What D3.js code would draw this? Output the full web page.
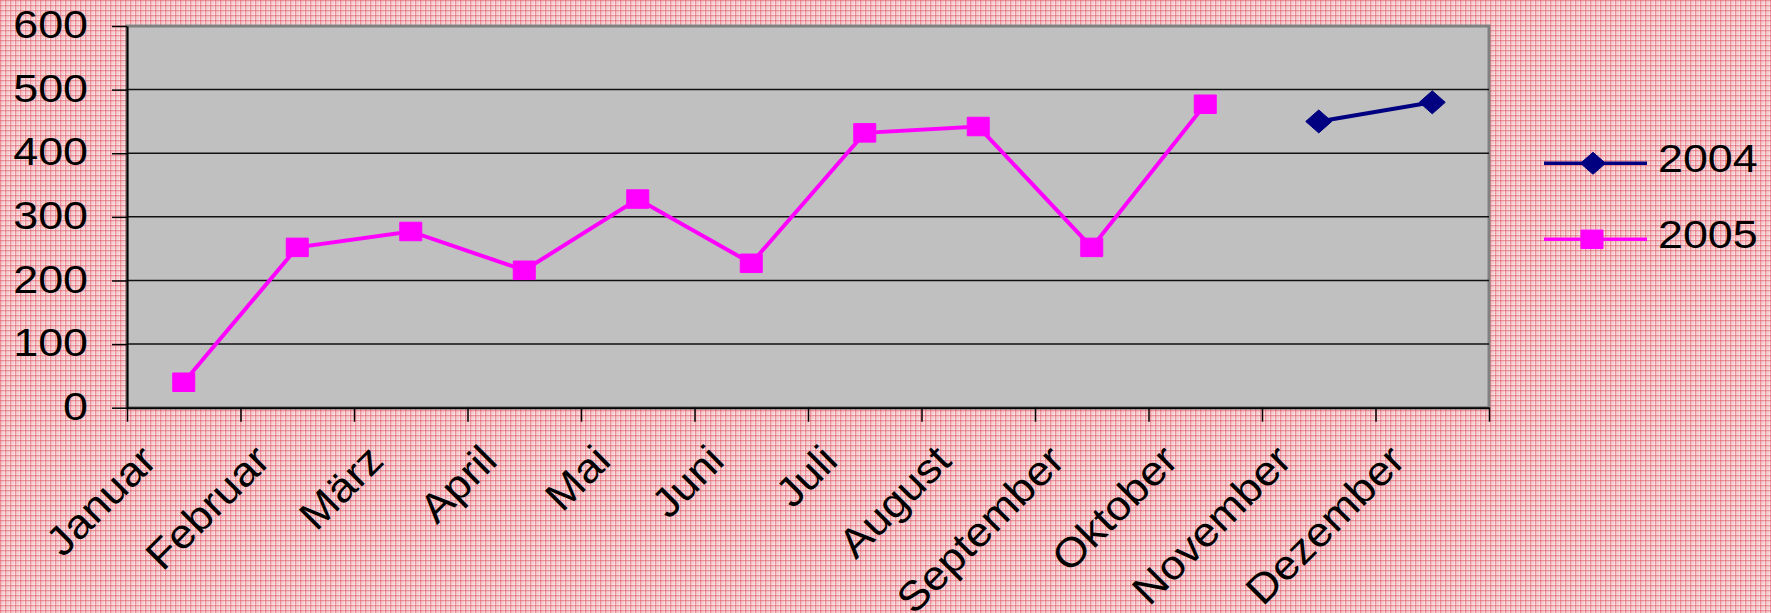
<!DOCTYPE html>
<html>
<head>
<meta charset="utf-8">
<script src="https://cdn.jsdelivr.net/npm/d3@7"></script>
<style>
  body { margin: 0; background: #fff; }
  text { font-family: "Liberation Sans", Arial, sans-serif; fill: #000; }
</style>
</head>
<body>
<div id="svg-div"></div>
<script>
// chart data
var months = ["Januar", "Februar", "März", "April", "Mai", "Juni", "Juli",
              "August", "September", "Oktober", "November", "Dezember"];
var values2004 = [null, null, null, null, null, null, null, null, null, null, 450, 480];
var values2005 = [40, 252, 277, 216, 328, 227, 432, 442, 252, 477, null, null];
var yTicks = [0, 100, 200, 300, 400, 500, 600];
var seriesNames = ["2004", "2005"];

var width = 1771;
var height = 613;
var plot = { left: 127, right: 1489, top: 26, bottom: 407.7 };
var stretch = 1.15;   // the original text is drawn wide

var svg = d3.select("#svg-div").append("svg")
    .attr("width", width).attr("height", height);

// pink checked paper behind everything
var defs = svg.append("defs");
var pat = defs.append("pattern")
    .attr("id", "paper")
    .attr("patternUnits", "userSpaceOnUse")
    .attr("width", 5).attr("height", 5);
pat.append("rect").attr("width", 5).attr("height", 5).style("fill", "#fbeeee");
pat.append("rect").attr("x", 0).attr("y", 0).attr("width", 1.4).attr("height", 5)
    .style("fill", "rgba(222,80,95,0.55)");
pat.append("rect").attr("x", 0).attr("y", 0).attr("width", 5).attr("height", 1.4)
    .style("fill", "rgba(222,80,95,0.55)");
pat.append("rect").attr("x", 2.5).attr("y", 0).attr("width", 1).attr("height", 5)
    .style("fill", "rgba(230,120,130,0.3)");
pat.append("rect").attr("x", 0).attr("y", 2.5).attr("width", 5).attr("height", 1)
    .style("fill", "rgba(230,120,130,0.3)");
svg.append("rect").attr("width", width).attr("height", height).style("fill", "url(#paper)");

var x = d3.scaleBand().domain(months).range([plot.left, plot.right]).padding(0);
var xEdge = d3.scaleLinear().domain([0, months.length]).range([plot.left, plot.right]);
var y = d3.scaleLinear().domain([0, 600]).range([plot.bottom, plot.top]);
var cx = function(i) { return x(months[i]) + x.bandwidth() / 2; };

// plot area
svg.append("rect")
    .attr("x", plot.left).attr("y", plot.top)
    .attr("width", plot.right - plot.left).attr("height", plot.bottom - plot.top)
    .style("fill", "#c0c0c0")
    .style("stroke", "#808080")
    .style("stroke-width", 3);

// gridlines
svg.append("g").selectAll("line")
    .data(yTicks.filter(function(t) { return t > 0 && t < 600; }))
    .enter().append("line")
    .attr("x1", plot.left).attr("x2", plot.right)
    .attr("y1", function(d) { return y(d); })
    .attr("y2", function(d) { return y(d); })
    .style("stroke", "#111")
    .style("stroke-width", 1.5);

// y axis
var yAxis = svg.append("g")
    .attr("transform", "translate(" + plot.left + ",0)")
    .call(d3.axisLeft(y).tickValues(yTicks).tickSize(15).tickSizeOuter(0));
yAxis.select(".domain").style("stroke", "#000").style("stroke-width", 2);
yAxis.selectAll(".tick line").style("stroke", "#000").style("stroke-width", 1.5);
yAxis.selectAll(".tick text")
    .attr("x", -39 / stretch)
    .attr("dy", "0.3em")
    .attr("transform", "scale(" + stretch + ",1)")
    .style("font-family", "'Liberation Sans', Arial, sans-serif")
    .style("font-size", "39px")
    .style("fill", "#000");

// x axis, ticks between the months
var xAxis = svg.append("g")
    .attr("transform", "translate(0," + plot.bottom + ")")
    .call(d3.axisBottom(xEdge).tickValues(d3.range(months.length + 1))
          .tickFormat("").tickSize(14).tickSizeOuter(0));
xAxis.select(".domain").style("stroke", "#000").style("stroke-width", 2);
xAxis.selectAll(".tick line").style("stroke", "#000").style("stroke-width", 1.5);

svg.append("g").selectAll("text")
    .data(months)
    .enter().append("text")
    .attr("text-anchor", "end")
    .attr("transform", function(d, i) {
      return "translate(" + (cx(i) - 25) + "," + (plot.bottom + 55) + ") rotate(-45) scale(1.08,1)";
    })
    .style("font-size", "41px")
    .text(function(d) { return d; });

// series
function linePath(vals) {
  return d3.line()
    .defined(function(d) { return d != null; })
    .x(function(d, i) { return cx(i); })
    .y(function(d) { return y(d); })(vals);
}

function squarePath(w, h) {
  return "M" + (-w / 2) + "," + (-h / 2) + "h" + w + "v" + h + "h" + (-w) + "Z";
}
function diamondPath(w, h) {
  return "M0," + (-h / 2) + "L" + (w / 2) + ",0L0," + (h / 2) + "L" + (-w / 2) + ",0Z";
}

svg.append("path")
    .attr("d", linePath(values2005))
    .style("fill", "none").style("stroke", "#ff00ff").style("stroke-width", 4);
svg.append("path")
    .attr("d", linePath(values2004))
    .style("fill", "none").style("stroke", "#000080").style("stroke-width", 4);

svg.append("g").selectAll("path")
    .data(values2005.map(function(v, i) { return { v: v, i: i }; }).filter(function(d) { return d.v != null; }))
    .enter().append("path")
    .attr("d", squarePath(22, 18.5))
    .attr("transform", function(d) { return "translate(" + cx(d.i) + "," + y(d.v) + ")"; })
    .style("fill", "#ff00ff").style("stroke", "#ff00ff").style("stroke-width", 1).style("stroke-linejoin", "round");

svg.append("g").selectAll("path")
    .data(values2004.map(function(v, i) { return { v: v, i: i }; }).filter(function(d) { return d.v != null; }))
    .enter().append("path")
    .attr("d", diamondPath(26, 23))
    .attr("transform", function(d) { return "translate(" + cx(d.i) + "," + y(d.v) + ")"; })
    .style("fill", "#000080").style("stroke", "#000080").style("stroke-width", 1).style("stroke-linejoin", "round");

// legend
var legendColors = ["#000080", "#ff00ff"];
var legend = svg.append("g").selectAll("g")
    .data(seriesNames)
    .enter().append("g")
    .attr("transform", function(d, i) { return "translate(1544," + (163.3 + i * 76) + ")"; });
legend.append("line")
    .attr("x1", 0).attr("x2", 103)
    .style("stroke", function(d, i) { return legendColors[i]; })
    .style("stroke-width", 3.5);
legend.append("path")
    .attr("d", function(d, i) { return i === 0 ? diamondPath(25, 22) : squarePath(22, 18.5); })
    .attr("transform", function(d, i) { return "translate(" + (i === 0 ? 49 : 48) + ",0)"; })
    .style("fill", function(d, i) { return legendColors[i]; })
    .style("stroke", function(d, i) { return legendColors[i]; })
    .style("stroke-width", 1).style("stroke-linejoin", "round");
legend.append("text")
    .attr("x", 114 / stretch)
    .attr("y", 9)
    .attr("transform", "scale(" + stretch + ",1)")
    .style("font-size", "39px")
    .text(function(d) { return d; });
</script>
</body>
</html>
